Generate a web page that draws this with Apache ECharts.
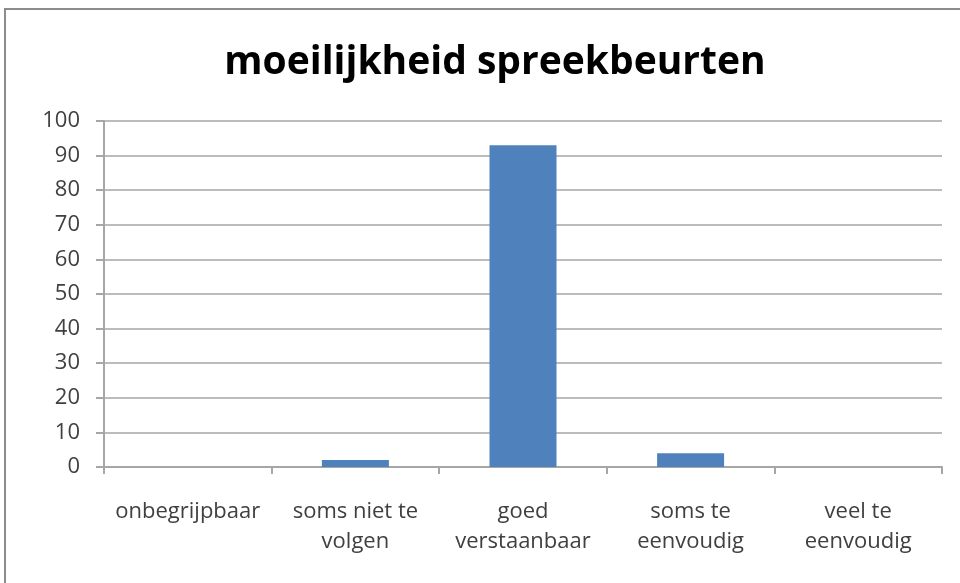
<!DOCTYPE html>
<html>
<head>
<meta charset="utf-8">
<script src="https://cdn.jsdelivr.net/npm/echarts@6/dist/echarts.min.js"></script>
<style>
	html, body { margin: 0; padding: 0; background: #fff; }
	#frame { position: absolute; left: 4px; top: 8px; width: 1000px; height: 1000px; border: 2px solid #8c8c8c; box-sizing: border-box; }
	#chart { position: absolute; left: 0; top: 0; width: 960px; height: 583px; }
</style>
</head>
<body>
<div id="frame"></div>
<div id="chart"></div>
<script>
var titleText = "moeilijkheid spreekbeurten";
var categories = ["onbegrijpbaar", "soms niet te\nvolgen", "goed\nverstaanbaar", "soms te\neenvoudig", "veel te\neenvoudig"];
var values = [0, 2, 93, 4, 0];

var chart = echarts.init(document.getElementById('chart'));

var option = {
	animation: false,
	title: {
		text: titleText,
		left: 490,
		textAlign: 'center',
		top: 38,
		textStyle: {
			fontFamily: 'Open Sans',
			fontWeight: 'bold',
			fontSize: 39,
			color: '#000'
		}
	},
	grid: { left: 104, right: 18, top: 121, bottom: 116 },
	xAxis: {
		type: 'category',
		data: categories,
		axisLine: { lineStyle: { color: '#a6a6a6', width: 2 } },
		axisTick: { show: true, length: 7, lineStyle: { color: '#a6a6a6', width: 2 } },
		axisLabel: {
			interval: 0,
			hideOverlap: false,
			margin: 30,
			fontFamily: 'Open Sans',
			fontSize: 22,
			color: '#404040',
			lineHeight: 30
		}
	},
	yAxis: {
		type: 'value',
		min: 0,
		max: 100,
		interval: 10,
		axisLine: { show: true, lineStyle: { color: '#a6a6a6', width: 2 } },
		axisTick: { show: true, length: 8, lineStyle: { color: '#a6a6a6', width: 2 } },
		axisLabel: {
			margin: 24,
			fontFamily: 'Open Sans',
			fontSize: 22,
			color: '#404040'
		},
		splitLine: { lineStyle: { color: '#bcbcbc', width: 2 } }
	},
	series: [{
		type: 'bar',
		data: values,
		barWidth: 67,
		itemStyle: { color: '#4f81bd', borderWidth: 0 }
	}]
};

chart.setOption(option);
</script>
</body>
</html>
